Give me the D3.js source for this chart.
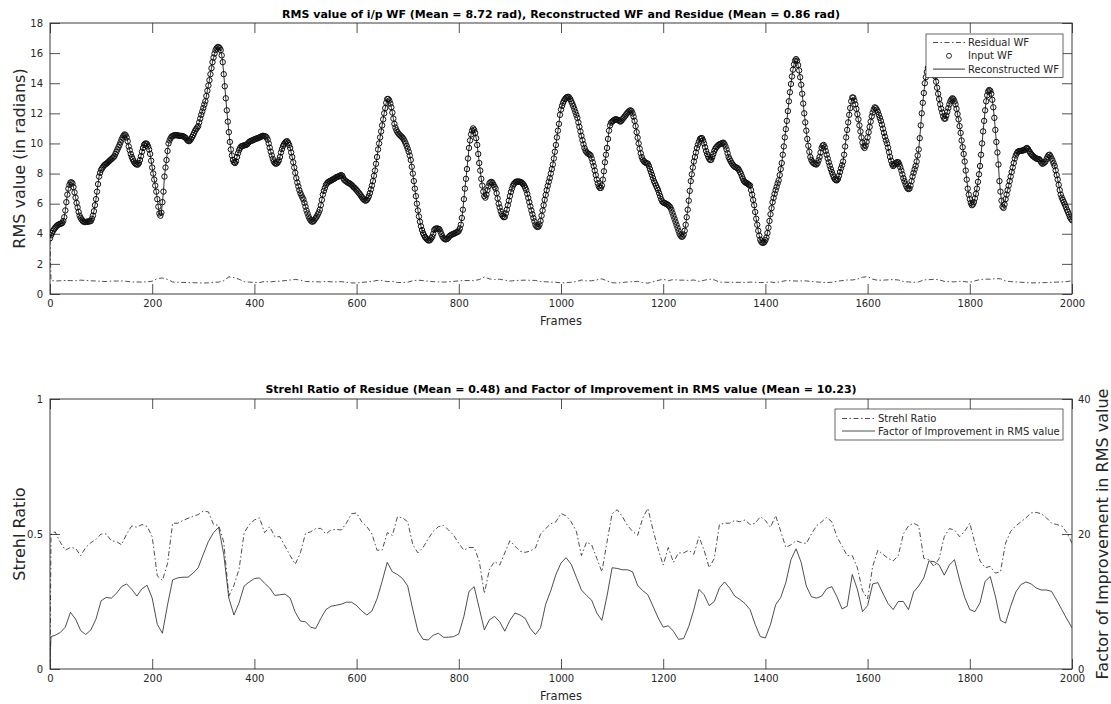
<!DOCTYPE html>
<html>
<head>
<meta charset="utf-8">
<script src="https://cdn.jsdelivr.net/npm/d3@7"></script>
<style>
  body { margin: 0; background: #fff; }
  svg { display: block; font-family: "DejaVu Sans", sans-serif; }
</style>
</head>
<body>
<svg id="chart" width="1111" height="704"></svg>
<script>
// ---------------- data ----------------
// Frame spacing of the input wavefront RMS samples
const inputStep = 2;

// RMS of input wavefront (rad), one value every 2 frames, frames 0..2000.
// The reconstructed wavefront follows the same values.
const inputWF = [
  3.7,3.9,4.05,4.2,4.3,4.4,4.48,4.55,4.6,4.63,4.66,4.68,4.72,4.85,5.1,5.55,6.1,6.6,7.0,7.25,7.4,7.42,7.35,7.1,6.75,
  6.4,6.05,5.75,5.45,5.2,5.05,4.95,4.85,4.8,4.78,4.78,4.8,4.8,4.82,4.83,4.85,5.0,5.2,5.5,5.9,6.3,6.8,7.3,7.8,8.05,
  8.25,8.35,8.45,8.55,8.6,8.65,8.7,8.77,8.83,8.9,8.95,9.02,9.08,9.15,9.3,9.45,9.6,9.75,9.9,10.08,10.25,10.4,10.52,10.6,10.55,
  10.4,10.15,9.8,9.55,9.3,9.1,8.95,8.8,8.7,8.63,8.6,8.6,8.7,8.9,9.15,9.45,9.7,9.9,9.98,10.0,9.95,9.8,9.6,9.3,8.85,
  8.4,8.0,7.6,7.2,6.8,6.3,5.8,5.35,5.2,5.4,6.1,6.8,7.8,8.4,8.9,9.5,10.0,10.2,10.35,10.45,10.5,10.52,10.55,10.55,10.55,
  10.53,10.52,10.5,10.5,10.5,10.48,10.45,10.4,10.35,10.25,10.18,10.15,10.2,10.3,10.42,10.55,10.7,10.85,10.95,11.05,11.15,11.4,11.65,11.9,12.12,
  12.35,12.58,12.8,13.15,13.5,13.85,14.2,14.6,15.0,15.4,15.7,15.97,16.2,16.32,16.4,16.4,16.33,16.2,15.85,15.4,14.6,13.8,13.0,12.2,11.45,
  10.75,10.1,9.6,9.2,8.9,8.75,8.7,8.8,9.1,9.35,9.55,9.7,9.8,9.83,9.85,9.87,9.9,9.9,9.95,10.03,10.1,10.15,10.18,10.2,10.23,
  10.27,10.3,10.32,10.34,10.37,10.4,10.43,10.47,10.5,10.5,10.48,10.46,10.4,10.25,10.0,9.72,9.45,9.2,8.98,8.8,8.7,8.65,8.68,8.75,8.88,
  9.1,9.4,9.62,9.82,9.95,10.05,10.12,10.15,10.05,9.9,9.7,9.4,9.1,8.75,8.4,8.05,7.7,7.4,7.15,6.9,6.7,6.55,6.4,6.28,6.05,
  5.8,5.55,5.35,5.15,5.0,4.9,4.82,4.8,4.85,4.95,5.05,5.15,5.28,5.42,5.6,5.9,6.25,6.6,6.85,7.05,7.25,7.35,7.42,7.47,7.5,
  7.54,7.58,7.62,7.65,7.7,7.75,7.78,7.8,7.83,7.87,7.9,7.85,7.7,7.58,7.52,7.47,7.42,7.38,7.35,7.3,7.25,7.18,7.1,7.05,6.97,
  6.9,6.82,6.73,6.65,6.55,6.45,6.35,6.28,6.22,6.2,6.25,6.35,6.5,6.7,6.95,7.2,7.5,7.85,8.2,8.65,9.1,9.6,10.0,10.4,10.8,
  11.2,11.6,12.0,12.35,12.7,12.95,12.95,12.85,12.65,12.4,12.05,11.65,11.3,11.05,10.88,10.75,10.65,10.58,10.5,10.45,10.38,10.28,10.15,10.0,9.83,
  9.65,9.45,9.2,8.9,8.45,8.0,7.5,7.0,6.5,6.0,5.55,5.15,4.8,4.5,4.25,4.05,3.9,3.78,3.7,3.63,3.57,3.55,3.6,3.7,3.8,
  4.0,4.25,4.33,4.35,4.35,4.33,4.3,4.15,3.98,3.82,3.72,3.65,3.63,3.64,3.68,3.76,3.85,3.9,3.94,3.97,4.0,4.03,4.07,4.1,4.13,
  4.2,4.35,4.6,5.05,5.6,6.3,7.0,7.65,8.3,9.0,9.7,10.2,10.6,10.85,11.0,10.9,10.7,10.35,9.9,9.3,8.7,8.2,7.65,7.2,6.8,
  6.5,6.4,6.6,6.9,7.15,7.35,7.42,7.45,7.38,7.25,7.12,7.0,6.7,6.35,6.0,5.75,5.5,5.3,5.18,5.1,5.12,5.35,5.6,5.9,6.2,
  6.5,6.78,7.0,7.2,7.32,7.4,7.45,7.47,7.47,7.46,7.45,7.42,7.37,7.3,7.2,7.05,6.9,6.65,6.38,6.1,5.82,5.55,5.3,5.05,4.82,
  4.6,4.5,4.45,4.48,4.62,4.85,5.2,5.55,5.9,6.25,6.58,6.9,7.18,7.45,7.7,8.0,8.3,8.6,9.0,9.45,9.9,10.4,10.85,11.3,11.9,
  12.25,12.5,12.7,12.85,12.95,13.03,13.08,13.1,13.05,12.95,12.8,12.65,12.48,12.3,12.1,11.9,11.7,11.4,11.1,10.8,10.5,10.22,9.95,9.7,9.52,
  9.42,9.35,9.3,9.26,9.2,9.0,8.75,8.5,8.2,7.9,7.6,7.35,7.15,7.05,7.05,7.2,7.6,8.15,8.75,9.25,9.7,10.3,10.85,11.2,11.38,
  11.45,11.5,11.55,11.6,11.6,11.58,11.55,11.5,11.45,11.5,11.6,11.68,11.77,11.85,11.95,12.03,12.1,12.17,12.2,12.15,12.0,11.78,11.5,11.15,10.75,
  10.38,10.0,9.65,9.35,9.1,8.92,8.82,8.75,8.72,8.68,8.65,8.5,8.3,8.1,7.9,7.7,7.5,7.35,7.2,7.05,6.9,6.7,6.5,6.3,6.15,
  6.08,6.05,6.02,5.98,5.95,5.9,5.83,5.75,5.6,5.4,5.2,5.0,4.8,4.6,4.4,4.2,4.0,3.88,3.8,3.82,3.95,4.2,4.6,5.1,5.6,
  6.2,6.85,7.5,7.95,8.4,8.8,9.1,9.4,9.7,9.92,10.12,10.3,10.35,10.35,10.2,10.0,9.75,9.5,9.3,9.12,8.98,8.9,8.92,9.1,9.3,
  9.5,9.65,9.75,9.82,9.9,9.94,9.97,10.0,10.03,10.05,9.95,9.8,9.6,9.35,9.1,8.95,8.82,8.7,8.6,8.52,8.45,8.42,8.38,8.35,8.25,
  8.12,8.0,7.82,7.65,7.5,7.43,7.39,7.35,7.3,7.25,7.2,6.9,6.6,6.25,5.9,5.45,5.0,4.6,4.2,3.88,3.6,3.47,3.4,3.4,3.45,
  3.58,3.75,4.05,4.4,4.85,5.3,5.7,6.1,6.38,6.65,6.9,7.12,7.35,7.55,7.9,8.3,8.7,9.25,9.8,10.4,10.95,11.5,12.15,12.8,13.4,
  13.95,14.45,14.9,15.25,15.5,15.6,15.5,15.2,14.85,14.4,13.9,13.3,12.65,12.0,11.4,10.85,10.3,9.85,9.45,9.1,8.9,8.77,8.7,8.65,8.62,
  8.6,8.7,8.88,9.1,9.4,9.7,9.85,9.9,9.75,9.5,9.25,9.0,8.75,8.52,8.3,8.1,7.92,7.75,7.62,7.56,7.55,7.65,7.85,8.1,8.35,
  8.55,8.8,9.25,9.8,10.4,10.9,11.4,11.9,12.35,12.8,13.05,13.05,12.85,12.6,12.3,11.95,11.6,11.2,10.8,10.4,10.05,9.8,9.7,9.85,10.1,
  10.4,10.75,11.1,11.45,11.8,12.05,12.25,12.4,12.35,12.25,12.1,11.9,11.7,11.5,11.25,10.98,10.7,10.45,10.2,10.0,9.72,9.42,9.1,8.85,8.62,
  8.5,8.55,8.65,8.72,8.76,8.75,8.62,8.42,8.2,7.95,7.7,7.5,7.32,7.15,7.02,6.97,7.0,7.2,7.5,7.8,8.05,8.28,8.5,8.8,9.2,
  9.6,10.35,11.2,12.0,12.7,13.35,14.0,14.4,14.75,15.0,15.15,15.25,15.3,15.25,15.05,14.8,14.45,14.1,13.7,13.3,12.95,12.6,12.3,12.05,11.8,
  11.65,11.65,11.85,12.1,12.35,12.6,12.8,12.92,13.0,12.95,12.8,12.6,12.3,11.95,11.6,11.15,10.7,10.2,9.75,9.3,8.8,8.2,7.6,7.0,6.6,
  6.3,6.05,5.9,5.95,6.1,6.35,6.65,7.0,7.45,7.95,8.5,9.25,10.0,10.8,11.5,12.2,12.8,13.2,13.45,13.55,13.5,13.3,12.9,12.4,11.7,
  10.9,10.1,9.4,8.6,7.5,6.8,6.2,5.8,5.72,5.95,6.3,6.6,6.9,7.2,7.5,7.8,8.1,8.4,8.7,9.0,9.2,9.35,9.45,9.48,9.5,
  9.5,9.52,9.54,9.55,9.6,9.66,9.7,9.62,9.5,9.4,9.3,9.22,9.15,9.1,9.05,9.0,8.98,8.96,8.95,8.85,8.73,8.65,8.68,8.74,8.8,
  8.95,9.1,9.22,9.25,9.15,9.0,8.85,8.68,8.5,8.22,7.9,7.6,7.25,6.9,6.6,6.4,6.25,6.1,5.95,5.78,5.6,5.45,5.28,5.1,5.0,
  4.9
];

// Frames of the per-10-frame series (plus the first corrected frame)
const coarseFrames = [0, 2].concat(d3.range(10, 2001, 10));

// RMS of residual wavefront (rad)
const residualWF = [
  3.6, 0.9,
  0.86,0.88,0.9,0.89,0.88,0.92,0.9,0.88,0.86,0.84,
  0.83,0.86,0.86,0.87,0.84,0.8,0.8,0.79,0.81,0.85,
  1.03,1.06,0.97,0.8,0.78,0.77,0.76,0.75,0.74,0.73,
  0.74,0.78,0.79,0.88,1.14,1.09,0.98,0.82,0.79,0.77,
  0.76,0.83,0.8,0.84,0.85,0.89,0.93,0.97,0.92,0.83,
  0.82,0.81,0.8,0.83,0.81,0.81,0.82,0.78,0.74,0.73,
  0.77,0.8,0.83,0.9,0.9,0.82,0.84,0.76,0.76,0.78,
  0.88,0.92,0.89,0.85,0.82,0.8,0.79,0.81,0.84,0.87,
  0.9,0.89,0.89,0.96,1.13,1.0,0.96,0.98,0.92,0.86,
  0.89,0.91,0.92,0.91,0.9,0.83,0.81,0.79,0.78,0.74,
  0.75,0.78,0.82,0.93,0.87,0.88,0.94,1.01,0.87,0.75,
  0.73,0.76,0.8,0.82,0.84,0.76,0.72,0.81,0.9,0.98,
  0.89,0.96,0.92,0.92,0.9,0.93,0.84,0.91,0.99,0.94,
  0.79,0.78,0.78,0.77,0.78,0.77,0.79,0.78,0.76,0.77,
  0.8,0.75,0.82,0.89,0.88,0.86,0.87,0.87,0.83,0.8,
  0.78,0.76,0.78,0.84,0.89,0.93,0.93,0.99,1.11,1.16,
  0.98,0.91,0.92,0.94,0.96,0.93,0.83,0.8,0.78,0.8,
  0.94,0.95,0.98,0.94,0.84,0.81,0.81,0.84,0.82,0.78,
  0.87,0.96,0.99,0.98,1.02,1.01,0.87,0.82,0.8,0.78,
  0.76,0.74,0.74,0.75,0.76,0.78,0.79,0.8,0.83,0.87
];

// Strehl ratio of the residual
const strehl = [
  0.0, 0.50,
  0.508,0.47,0.44,0.45,0.447,0.42,0.45,0.468,0.48,0.50,
  0.50,0.475,0.472,0.46,0.50,0.53,0.525,0.535,0.528,0.49,
  0.345,0.328,0.39,0.54,0.54,0.55,0.558,0.565,0.572,0.585,
  0.582,0.535,0.532,0.47,0.27,0.31,0.37,0.505,0.535,0.552,
  0.56,0.505,0.527,0.49,0.49,0.455,0.42,0.388,0.43,0.502,
  0.508,0.52,0.521,0.50,0.515,0.517,0.515,0.54,0.575,0.578,
  0.545,0.528,0.50,0.44,0.44,0.505,0.495,0.564,0.56,0.545,
  0.46,0.43,0.45,0.482,0.51,0.527,0.532,0.515,0.495,0.465,
  0.44,0.45,0.45,0.40,0.28,0.37,0.398,0.385,0.43,0.475,
  0.455,0.436,0.432,0.437,0.448,0.50,0.52,0.538,0.545,0.576,
  0.567,0.545,0.51,0.42,0.47,0.46,0.41,0.36,0.47,0.575,
  0.59,0.565,0.532,0.51,0.495,0.56,0.595,0.515,0.445,0.385,
  0.45,0.395,0.43,0.43,0.44,0.425,0.49,0.44,0.375,0.41,
  0.535,0.54,0.54,0.55,0.545,0.552,0.535,0.54,0.564,0.55,
  0.525,0.568,0.51,0.45,0.46,0.475,0.468,0.465,0.50,0.53,
  0.545,0.562,0.545,0.49,0.455,0.42,0.42,0.375,0.29,0.26,
  0.38,0.44,0.425,0.41,0.40,0.42,0.50,0.53,0.54,0.53,
  0.41,0.404,0.379,0.41,0.49,0.52,0.515,0.49,0.51,0.54,
  0.466,0.40,0.375,0.38,0.355,0.36,0.466,0.51,0.53,0.545,
  0.56,0.578,0.58,0.575,0.56,0.54,0.535,0.53,0.505,0.466
];

// Factor of improvement in RMS value
const improvement = [
  1.0, 4.8,
  5.0,5.4,6.2,8.4,7.4,5.7,5.1,5.8,7.4,10.1,
  10.6,10.5,11.2,12.2,12.6,11.8,10.8,11.9,12.4,10.5,
  6.6,5.3,9.5,13.2,13.5,13.6,13.6,14.2,15.0,17.0,
  18.9,20.2,21.0,17.0,10.5,8.0,9.8,12.3,12.9,13.4,
  13.5,12.7,12.0,10.9,11.0,11.1,10.5,8.4,7.1,7.0,
  6.2,6.0,7.5,8.8,9.3,9.45,9.6,9.9,9.9,9.4,
  8.6,8.0,8.6,10.4,13.0,15.8,14.4,14.0,13.4,12.3,
  8.8,5.6,4.4,4.3,5.0,5.3,4.7,4.7,4.8,5.2,
  7.8,11.5,12.2,9.0,5.8,7.3,7.8,7.0,5.6,7.2,
  8.3,8.0,7.5,6.0,5.1,6.1,9.6,11.6,14.0,15.7,
  16.5,15.5,13.6,11.7,10.9,10.2,8.3,7.2,10.8,15.0,
  14.9,14.7,14.7,14.4,12.4,11.6,11.0,9.3,7.6,6.2,
  6.4,5.6,4.4,4.5,6.3,8.8,11.8,11.0,9.4,10.0,
  12.0,12.9,12.0,10.8,10.3,9.7,8.8,6.6,4.8,4.6,
  6.6,9.5,10.6,12.8,16.2,17.8,15.8,12.3,10.7,10.5,
  10.8,11.9,12.2,10.7,8.9,9.3,14.0,11.8,8.5,9.4,
  12.6,12.8,11.2,9.7,8.8,10.0,10.0,8.8,11.4,12.3,
  13.5,16.0,15.9,15.4,13.9,15.4,16.2,13.2,10.6,8.8,
  8.5,9.8,13.0,13.7,10.8,7.2,6.8,9.3,11.4,12.5,
  12.9,12.6,12.0,11.7,11.7,11.5,10.2,8.8,7.4,6.1
];

// Tick values
const frameTicks = [0, 200, 400, 600, 800, 1000, 1200, 1400, 1600, 1800, 2000];
const rmsTicks = [0, 2, 4, 6, 8, 10, 12, 14, 16, 18];
const strehlTicks = [0, 0.5, 1];
const improvementTicks = [0, 20, 40];

// Texts
const topTitle = "RMS value of i/p WF (Mean = 8.72 rad), Reconstructed WF and Residue (Mean = 0.86 rad)";
const bottomTitle = "Strehl Ratio of Residue (Mean = 0.48) and Factor of Improvement in RMS value (Mean = 10.23)";
const topLegend = ["Residual WF", "Input WF", "Reconstructed WF"];
const bottomLegend = ["Strehl Ratio", "Factor of Improvement in RMS value"];

// ---------------- drawing ----------------
const svg = d3.select("#chart");
const axisColor = "#262626";
const dashDot = "5,2.5,1.5,2.5";
const tickFmt = d3.format("~g");

const L = 50, R = 1072;
const top1 = 23, bot1 = 294;
const top2 = 399, bot2 = 669;

const x = d3.scaleLinear().domain([0, 2000]).range([L, R]);
const yRms = d3.scaleLinear().domain([0, 18]).range([bot1, top1]);
const yStrehl = d3.scaleLinear().domain([0, 1]).range([bot2, top2]);
const yImp = d3.scaleLinear().domain([0, 40]).range([bot2, top2]);

const defs = svg.append("defs");
defs.append("clipPath").attr("id", "clipTop")
  .append("rect").attr("x", L).attr("y", top1).attr("width", R - L).attr("height", bot1 - top1);
defs.append("clipPath").attr("id", "clipBot")
  .append("rect").attr("x", L).attr("y", top2).attr("width", R - L).attr("height", bot2 - top2);

function styleAxis(g, size) {
  g.select(".domain").remove();
  g.selectAll(".tick line").attr("stroke", axisColor).attr("stroke-width", 0.8);
  g.selectAll(".tick text").attr("fill", axisColor).attr("font-size", size)
    .attr("font-family", "DejaVu Sans, sans-serif");
}

function frame(topY, botY) {
  // x ticks, inward at bottom and top
  svg.append("g").attr("transform", `translate(0,${botY})`)
    .call(d3.axisBottom(x).tickValues(frameTicks).tickSize(-10).tickPadding(6).tickFormat(tickFmt))
    .call(g => styleAxis(g, 10));
  svg.append("g").attr("transform", `translate(0,${topY})`)
    .call(d3.axisTop(x).tickValues(frameTicks).tickSize(-10).tickFormat(""))
    .call(g => styleAxis(g, 10));
  svg.append("rect").attr("x", L).attr("y", topY).attr("width", R - L).attr("height", botY - topY)
    .attr("fill", "none").attr("stroke", axisColor).attr("stroke-width", 0.9);
  svg.append("text").attr("x", (L + R) / 2).attr("y", botY + 31)
    .attr("text-anchor", "middle").attr("font-size", 11.5).attr("fill", axisColor).text("Frames");
}

// ---- top panel ----
frame(top1, bot1);
svg.append("g").attr("transform", `translate(${L},0)`)
  .call(d3.axisLeft(yRms).tickValues(rmsTicks).tickSize(-10).tickPadding(7).tickFormat(tickFmt))
  .call(g => styleAxis(g, 10));
svg.append("g").attr("transform", `translate(${R},0)`)
  .call(d3.axisRight(yRms).tickValues(rmsTicks).tickSize(-10).tickFormat(""))
  .call(g => styleAxis(g, 10));

svg.append("text").attr("transform", `translate(19,${(top1 + bot1) / 2}) rotate(-90)`)
  .attr("text-anchor", "middle").attr("dominant-baseline", "central")
  .attr("font-size", 16).attr("fill", axisColor).text("RMS value (in radians)");
svg.append("text").attr("x", (L + R) / 2).attr("y", 18)
  .attr("text-anchor", "middle").attr("font-size", 11).attr("font-weight", "bold")
  .attr("fill", "#000").text(topTitle);

const inputPts = inputWF.map((v, i) => ({ f: i * inputStep, v }));
const residualPts = residualWF.map((v, i) => ({ f: coarseFrames[i], v }));

const plotTop = svg.append("g").attr("clip-path", "url(#clipTop)");
plotTop.append("path").datum(residualPts)
  .attr("d", d3.line().x(d => x(d.f)).y(d => yRms(d.v)))
  .attr("fill", "none").attr("stroke", "#222").attr("stroke-width", 0.8)
  .attr("stroke-dasharray", dashDot);
plotTop.append("g").selectAll("circle").data(inputPts).join("circle")
  .attr("cx", d => x(d.f)).attr("cy", d => yRms(d.v)).attr("r", 2.7)
  .attr("fill", "none").attr("stroke", "#111").attr("stroke-width", 1.0);
plotTop.append("path").datum(inputPts)
  .attr("d", d3.line().x(d => x(d.f)).y(d => yRms(d.v)))
  .attr("fill", "none").attr("stroke", "#000").attr("stroke-width", 0.8);

// top legend
{
  const lx = 926, ly = 34, lw = 137, rowH = 13.3;
  const g = svg.append("g");
  g.append("rect").attr("x", lx).attr("y", ly).attr("width", lw).attr("height", rowH * 3 + 3.5)
    .attr("fill", "#fff").attr("stroke", axisColor).attr("stroke-width", 0.7);
  topLegend.forEach((t, i) => {
    const cy = ly + 8.5 + i * rowH;
    if (i === 0) g.append("line").attr("x1", lx + 7).attr("x2", lx + 39).attr("y1", cy).attr("y2", cy)
      .attr("stroke", "#222").attr("stroke-width", 0.8).attr("stroke-dasharray", dashDot);
    if (i === 1) g.append("circle").attr("cx", lx + 23).attr("cy", cy).attr("r", 2.5)
      .attr("fill", "none").attr("stroke", "#1a1a1a").attr("stroke-width", 0.9);
    if (i === 2) g.append("line").attr("x1", lx + 7).attr("x2", lx + 39).attr("y1", cy).attr("y2", cy)
      .attr("stroke", "#000").attr("stroke-width", 0.8);
    g.append("text").attr("x", lx + 42).attr("y", cy).attr("dominant-baseline", "central")
      .attr("font-size", 10).attr("fill", axisColor).text(t);
  });
}

// ---- bottom panel ----
frame(top2, bot2);
svg.append("g").attr("transform", `translate(${L},0)`)
  .call(d3.axisLeft(yStrehl).tickValues(strehlTicks).tickSize(-10).tickPadding(7).tickFormat(tickFmt))
  .call(g => styleAxis(g, 10));
svg.append("g").attr("transform", `translate(${R},0)`)
  .call(d3.axisRight(yImp).tickValues(improvementTicks).tickSize(-10).tickPadding(6).tickFormat(tickFmt))
  .call(g => styleAxis(g, 10));

svg.append("text").attr("transform", `translate(19,${(top2 + bot2) / 2}) rotate(-90)`)
  .attr("text-anchor", "middle").attr("dominant-baseline", "central")
  .attr("font-size", 16).attr("fill", axisColor).text("Strehl Ratio");
svg.append("text").attr("transform", `translate(1102,${(top2 + bot2) / 2}) rotate(-90)`)
  .attr("text-anchor", "middle").attr("dominant-baseline", "central")
  .attr("font-size", 16).attr("fill", axisColor).text("Factor of Improvement in RMS value");
svg.append("text").attr("x", (L + R) / 2).attr("y", 393)
  .attr("text-anchor", "middle").attr("font-size", 11).attr("font-weight", "bold")
  .attr("fill", "#000").text(bottomTitle);

const strehlPts = strehl.map((v, i) => ({ f: coarseFrames[i], v }));
const impPts = improvement.map((v, i) => ({ f: coarseFrames[i], v }));

const plotBot = svg.append("g").attr("clip-path", "url(#clipBot)");
plotBot.append("path").datum(strehlPts)
  .attr("d", d3.line().x(d => x(d.f)).y(d => yStrehl(d.v)))
  .attr("fill", "none").attr("stroke", "#222").attr("stroke-width", 0.8)
  .attr("stroke-dasharray", dashDot);
plotBot.append("path").datum(impPts)
  .attr("d", d3.line().x(d => x(d.f)).y(d => yImp(d.v)))
  .attr("fill", "none").attr("stroke", "#222").attr("stroke-width", 0.8);

// bottom legend
{
  const lx = 835, ly = 409, lw = 228, rowH = 12.5;
  const g = svg.append("g");
  g.append("rect").attr("x", lx).attr("y", ly).attr("width", lw).attr("height", rowH * 2 + 6)
    .attr("fill", "#fff").attr("stroke", axisColor).attr("stroke-width", 0.7);
  bottomLegend.forEach((t, i) => {
    const cy = ly + 9.5 + i * rowH;
    g.append("line").attr("x1", lx + 7).attr("x2", lx + 40).attr("y1", cy).attr("y2", cy)
      .attr("stroke", "#222").attr("stroke-width", 0.8)
      .attr("stroke-dasharray", i === 0 ? dashDot : null);
    g.append("text").attr("x", lx + 43).attr("y", cy).attr("dominant-baseline", "central")
      .attr("font-size", 10).attr("fill", axisColor).text(t);
  });
}
</script>
</body>
</html>
